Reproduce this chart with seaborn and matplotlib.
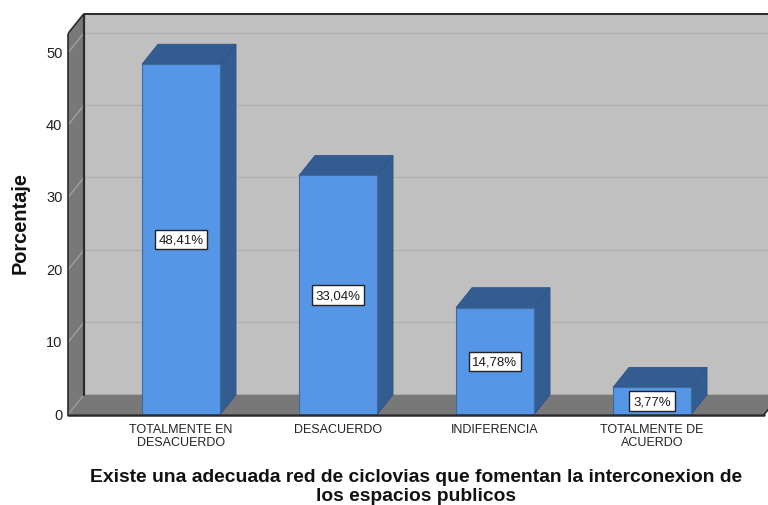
import pandas as pd
import seaborn as sns
import matplotlib.pyplot as plt

categorias = ["TOTALMENTE EN\nDESACUERDO", "DESACUERDO", "INDIFERENCIA", "TOTALMENTE DE\nACUERDO"]
porcentajes = [48.41, 33.04, 14.78, 3.77]
etiquetas = ["48,41%", "33,04%", "14,78%", "3,77%"]
ticks_y = [0, 10, 20, 30, 40, 50]

df = pd.DataFrame({"categoria": categorias, "porcentaje": porcentajes})

sns.set_style("white")
plt.rcParams['font.family'] = ['Liberation Sans', 'DejaVu Sans']

W, H = 768, 506
fig = plt.figure(figsize=(W / 100, H / 100), dpi=100)
# plot area in pixels: x 68-768, y 14-415
ax = fig.add_axes([68 / W, (H - 415.7) / H, 700 / W, 401 / H])

ancho = 0.497
sns.barplot(data=df, x="categoria", y="porcentaje", color="#5596E6", width=ancho, saturation=1,
            edgecolor="#41699c", linewidth=0.8, ax=ax, zorder=2)

# scales: 157 px per category, 7.24 px per y unit
x_izq = -113 / 157
x_der = 583 / 157
dx = 16 / 157  # depth of the fake 3d
dy = 20 / 7.24
techo = 52.65
ax.set_xlim(x_izq, 587 / 157)
ax.set_ylim(0, 401 / 7.24)

# walls and floor
ax.fill([x_izq + dx, 6, 6, x_izq + dx], [dy, dy, techo + dy, techo + dy], color="#c0c0c0", lw=0, zorder=0.5)
ax.fill([x_izq, x_izq + dx, x_izq + dx, x_izq], [0, dy, techo + dy, techo], color="#787878", lw=0, zorder=0.6)
ax.fill([x_izq, x_der, x_der + dx, x_izq + dx], [0, 0, dy, dy], color="#787878", lw=0, zorder=0.6)

# gridlines on back and left wall
for v in ticks_y[1:]:
    ax.plot([x_izq + dx, 6], [v + dy, v + dy], color="#b0b0b0", lw=1, zorder=0.7)
    ax.plot([x_izq, x_izq + dx], [v, v + dy], color="#a0a0a0", lw=1, zorder=0.7)
ax.plot([x_izq, x_izq + dx], [0, dy], color="#a0a0a0", lw=0.8, zorder=0.7)

# frame lines
borde = "#2b2b2b"
ax.plot([x_izq + dx, x_izq + dx], [dy, techo + dy], color=borde, lw=1.6, zorder=0.8)
ax.plot([x_izq + dx, 6], [techo + dy, techo + dy], color=borde, lw=1.4, zorder=0.8, clip_on=False)
ax.plot([x_izq, x_izq], [0, techo], color=borde, lw=1.2, zorder=0.8, clip_on=False)
ax.plot([x_izq, x_izq + dx], [techo, techo + dy], color=borde, lw=1.2, zorder=0.8)
ax.plot([x_izq, x_der], [0, 0], color=borde, lw=1.8, zorder=3, clip_on=False)
ax.plot([x_der, x_der + dx], [0, dy], color=borde, lw=1.2, zorder=0.8)

# side and top faces of the bars
for i, v in enumerate(porcentajes):
    a, b = i - ancho / 2, i + ancho / 2
    ax.fill([b, b + dx, b + dx, b], [0, dy, v + dy, v], facecolor="#335C91", edgecolor="#2f5485", lw=0.6, zorder=1.5)
    ax.fill([a, a + dx, b + dx, b], [v, v + dy, v + dy, v], facecolor="#335C91", edgecolor="#2f5485", lw=0.6, zorder=1.5)
    ax.text(i, v / 2, etiquetas[i], ha="center", va="center", fontsize=9.5, color="#1a1a1a", zorder=4,
            bbox=dict(boxstyle="square,pad=0.28", facecolor="white", edgecolor="#222222", linewidth=1))

ax.set_yticks(ticks_y)
ax.tick_params(axis="both", length=0, labelcolor="#222222")
ax.tick_params(axis="x", pad=6, labelsize=9)
ax.tick_params(axis="y", pad=4, labelsize=10.5)
for lab in ax.get_xticklabels():
    lab.set_linespacing(1.15)
for lab in ax.get_yticklabels():
    lab.set_verticalalignment("center")
sns.despine(ax=ax, left=True, bottom=True)

ax.set_ylabel("Porcentaje", fontsize=14.4, fontweight="bold", color="#111111")
ax.yaxis.set_label_coords(-38 / 700, 0.48)
ax.set_xlabel("Existe una adecuada red de ciclovias que fomentan la interconexion de\nlos espacios publicos",
              fontsize=13.9, fontweight="bold", color="#111111", linespacing=1.15)
ax.xaxis.set_label_coords(348 / 700, -53 / 401, transform=ax.transAxes)
ax.xaxis.label.set_verticalalignment("top")

fig.savefig("out.png", dpi=100)
